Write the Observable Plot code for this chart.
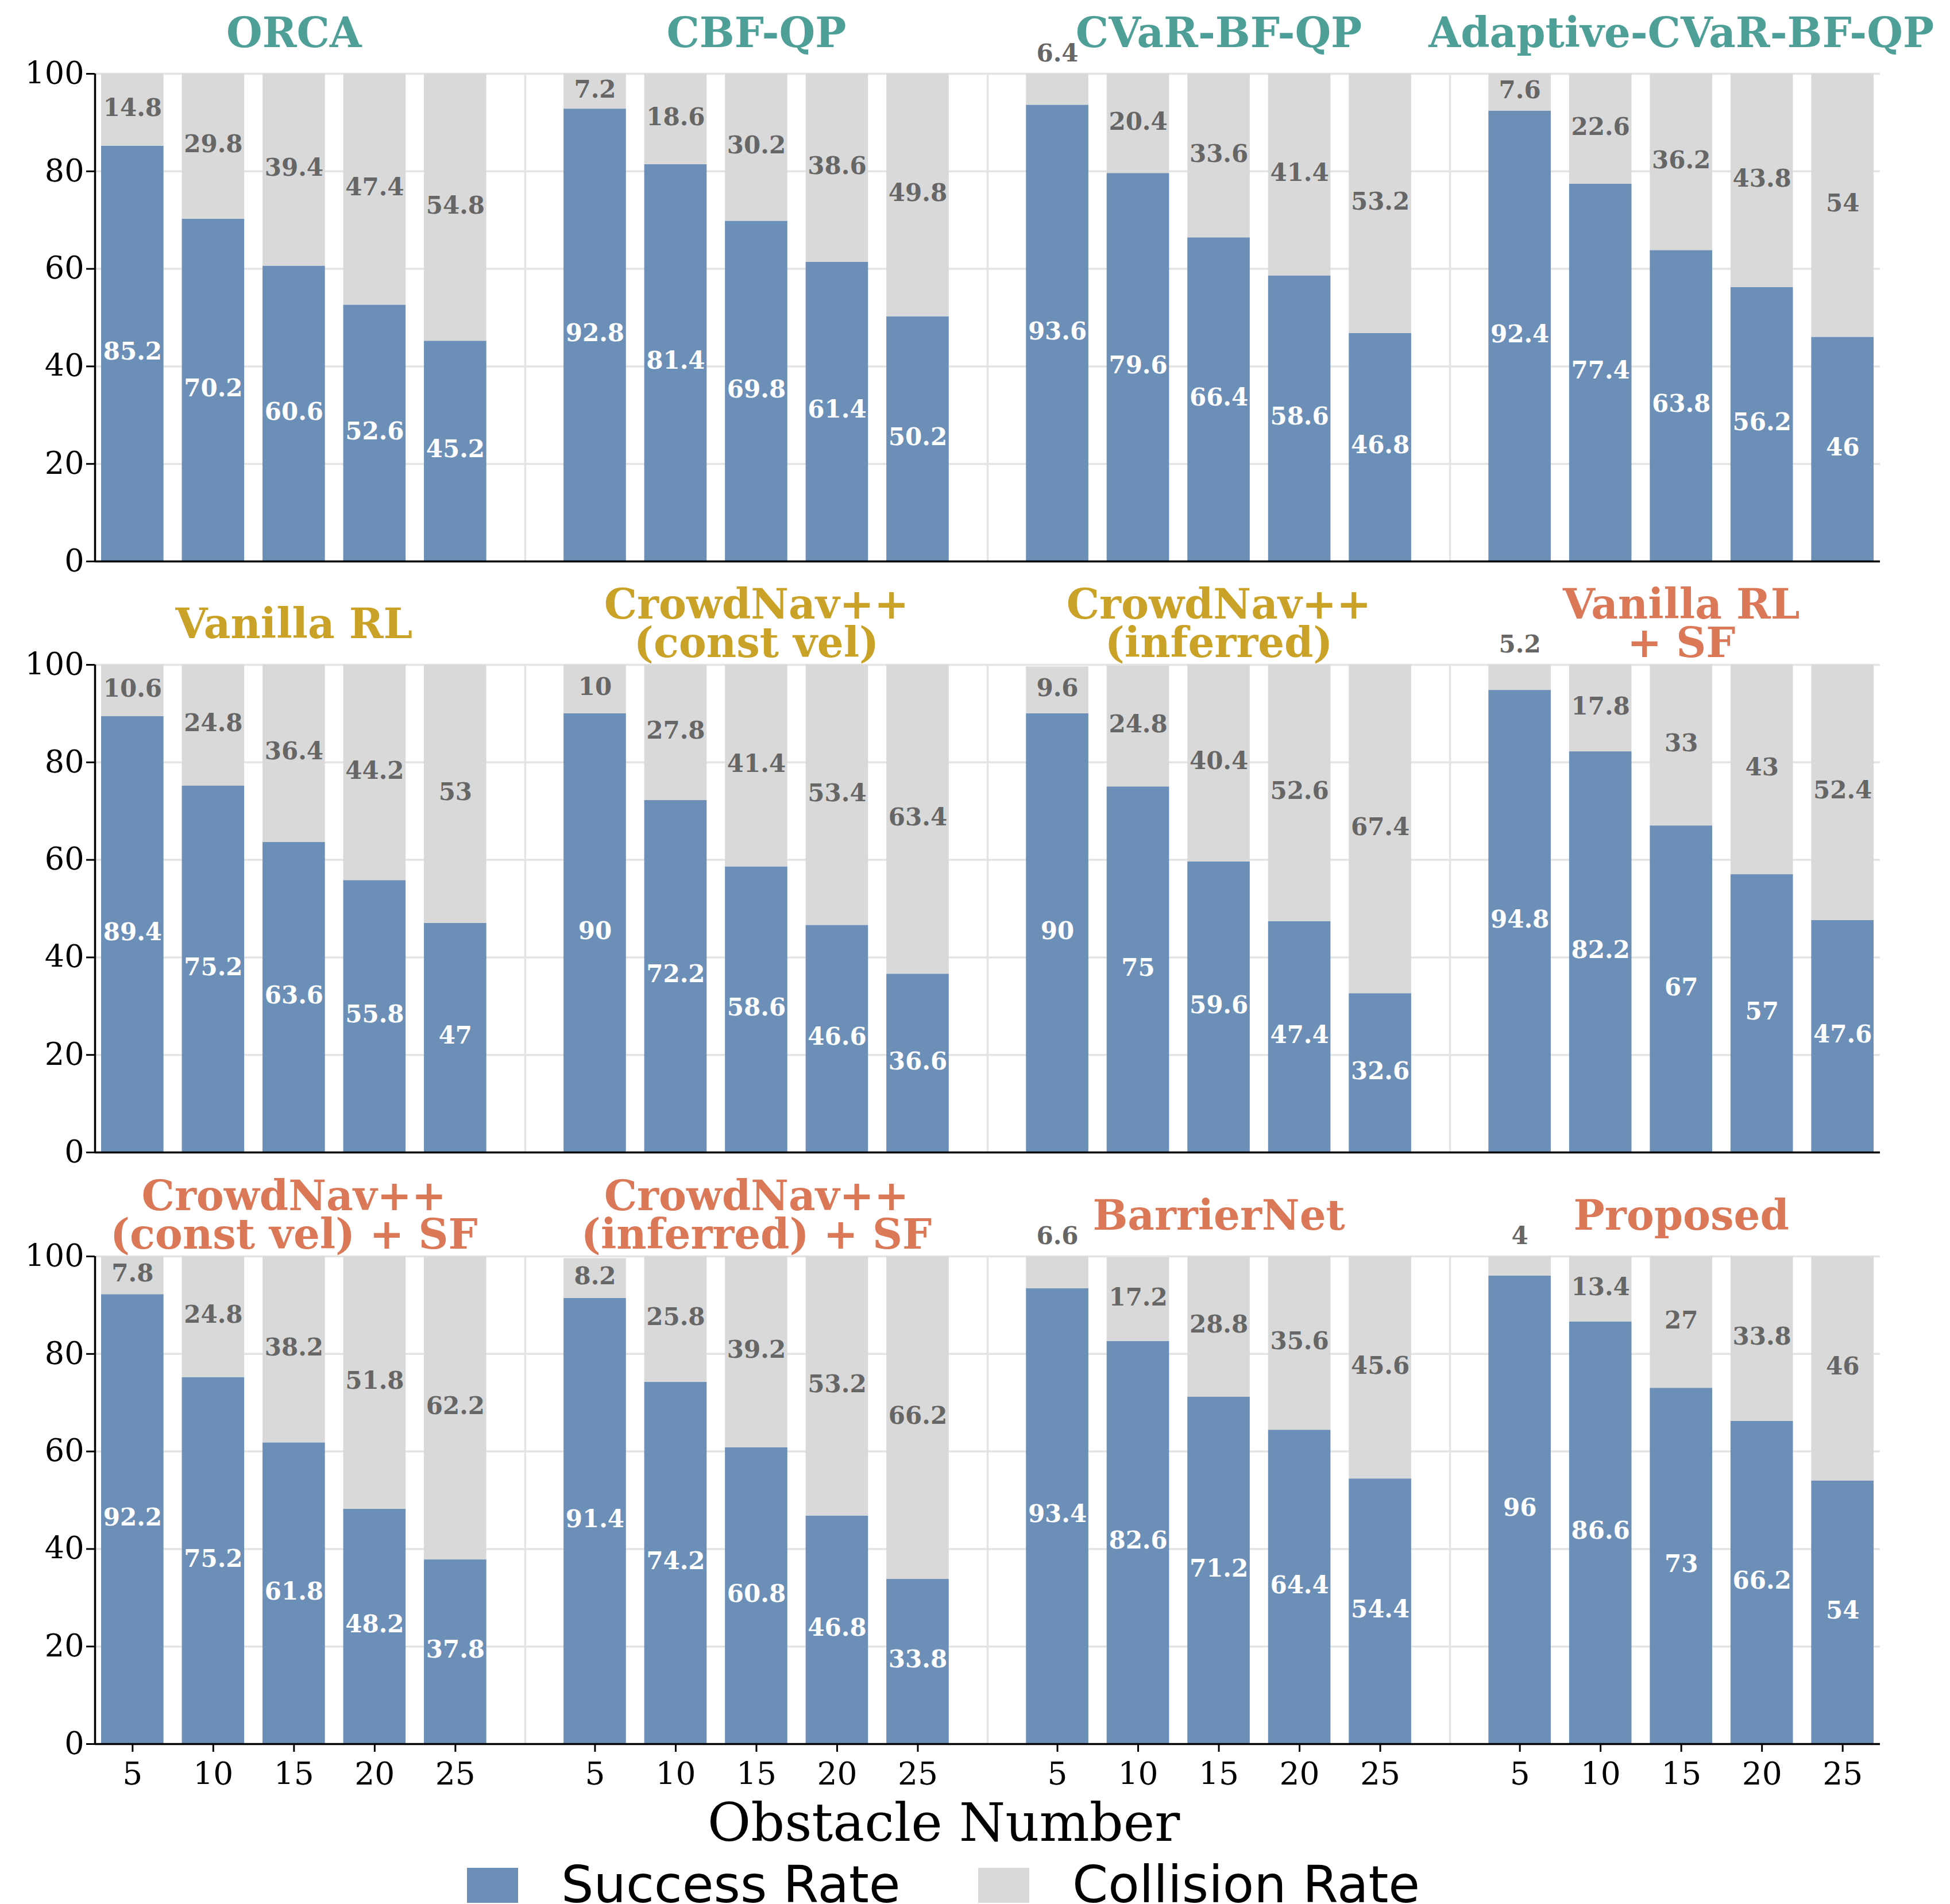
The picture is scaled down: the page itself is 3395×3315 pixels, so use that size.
<!DOCTYPE html>
<html>
<head>
<meta charset="utf-8">
<script src="https://cdn.jsdelivr.net/npm/d3@7"></script>
<script src="https://cdn.jsdelivr.net/npm/@observablehq/plot@0.6"></script>
<style>
  html, body { margin: 0; padding: 0; background: #fff; overflow: hidden; }
  #fig { position: relative; width: 3395px; height: 3315px; background: #fff; }
  #fig > svg { position: absolute; left: 0; max-width: none; }
</style>
</head>
<body>
<div id="fig"></div>
<script>
// Obstacle counts tested for every method
const obstacleCounts = [5, 10, 15, 20, 25];

// Methods, in panel order (four per row)
const methodNames = [
  "ORCA", "CBF-QP", "CVaR-BF-QP", "Adaptive-CVaR-BF-QP",
  "Vanilla RL", "CrowdNav++\n(const vel)", "CrowdNav++\n(inferred)", "Vanilla RL\n+ SF",
  "CrowdNav++\n(const vel) + SF", "CrowdNav++\n(inferred) + SF", "BarrierNet", "Proposed"
];
const methodFamily = [
  "optimization", "optimization", "optimization", "optimization",
  "learning", "learning", "learning", "safe-learning",
  "safe-learning", "safe-learning", "safe-learning", "safe-learning"
];

// Success rate (%) per method, by obstacle count
const successRate = [
  [85.2, 70.2, 60.6, 52.6, 45.2],
  [92.8, 81.4, 69.8, 61.4, 50.2],
  [93.6, 79.6, 66.4, 58.6, 46.8],
  [92.4, 77.4, 63.8, 56.2, 46],
  [89.4, 75.2, 63.6, 55.8, 47],
  [90, 72.2, 58.6, 46.6, 36.6],
  [90, 75, 59.6, 47.4, 32.6],
  [94.8, 82.2, 67, 57, 47.6],
  [92.2, 75.2, 61.8, 48.2, 37.8],
  [91.4, 74.2, 60.8, 46.8, 33.8],
  [93.4, 82.6, 71.2, 64.4, 54.4],
  [96, 86.6, 73, 66.2, 54]
];

// Collision rate (%) per method, by obstacle count
const collisionRate = [
  [14.8, 29.8, 39.4, 47.4, 54.8],
  [7.2, 18.6, 30.2, 38.6, 49.8],
  [6.4, 20.4, 33.6, 41.4, 53.2],
  [7.6, 22.6, 36.2, 43.8, 54],
  [10.6, 24.8, 36.4, 44.2, 53],
  [10, 27.8, 41.4, 53.4, 63.4],
  [9.6, 24.8, 40.4, 52.6, 67.4],
  [5.2, 17.8, 33, 43, 52.4],
  [7.8, 24.8, 38.2, 51.8, 62.2],
  [8.2, 25.8, 39.2, 53.2, 66.2],
  [6.6, 17.2, 28.8, 35.6, 45.6],
  [4, 13.4, 27, 33.8, 46]
];

const seriesNames = ["Success Rate", "Collision Rate"];
const yTicks = [0, 20, 40, 60, 80, 100];

// Styling
const seriesColor = ["#6c8fb8", "#d9d9d9"];
const familyColor = { "optimization": "#4e9f97", "learning": "#c9a227", "safe-learning": "#da7858" };
const serif = "DejaVu Serif";
const sans = "DejaVu Sans";

// Layout of one row: 4 groups of 5 bars along a linear x axis
const GROUP_STEP = 5.73;   // group pitch in bar units
const BAR_W = 0.773;       // bar width in bar units
const PAD = 0.465;
const xDomain = [-PAD, 3 * GROUP_STEP + 4 + PAD];
const WIDTH = 3395, ML = 165, MR = 122, MT = 128, PLOT_H = 849;
const rowTop = [0, 1029, 2059];

const bars = [];
methodNames.forEach((name, m) => {
  obstacleCounts.forEach((n, i) => {
    bars.push({
      m, row: Math.floor(m / 4), g: m % 4, i, n,
      success: successRate[m][i], collision: collisionRate[m][i]
    });
  });
});
const pos = d => d.g * GROUP_STEP + d.i;
const separators = [0, 1, 2].map(g => g * GROUP_STEP + 4 + (GROUP_STEP - 4) / 2);
const tickPositions = [];
for (let g = 0; g < 4; g++) obstacleCounts.forEach((n, i) => tickPositions.push(g * GROUP_STEP + i));
const tickLabel = v => {
  const g = Math.round((v - 2) / GROUP_STEP);
  return String(obstacleCounts[Math.round(v - g * GROUP_STEP)]);
};

const fig = document.getElementById("fig");

function drawRow(r) {
  const last = r === 2;
  const height = last ? 1100 : 1029;
  const rb = bars.filter(d => d.row === r);
  const titles = methodNames
    .map((name, m) => ({ name, m, g: m % 4, family: methodFamily[m] }))
    .filter(d => Math.floor(d.m / 4) === r);

  const marks = [
    Plot.gridY(yTicks.filter(t => t > 0), { stroke: "#e4e4e4", strokeOpacity: 1, strokeWidth: 3.5 }),
    Plot.ruleX(separators, { y1: 0, y2: 100, stroke: "#e4e4e4", strokeWidth: 3.5 }),
    // stacked bars: success at the bottom, collision on top
    Plot.rect(rb, {
      x1: d => pos(d) - BAR_W / 2, x2: d => pos(d) + BAR_W / 2,
      y1: 0, y2: "success", fill: seriesColor[0]
    }),
    Plot.rect(rb, {
      x1: d => pos(d) - BAR_W / 2, x2: d => pos(d) + BAR_W / 2,
      y1: "success", y2: d => d.success + d.collision, fill: seriesColor[1]
    }),
    // value labels
    Plot.text(rb, {
      x: pos, y: d => d.success / 2, dy: -3, text: d => String(d.success),
      fill: "white", fontWeight: "bold", fontSize: 42, fontFamily: serif
    }),
    Plot.text(rb.filter(d => d.collision >= 7), {
      x: pos, y: d => d.success + d.collision / 2, dy: -3, text: d => String(d.collision),
      fill: "#666666", fontWeight: "bold", fontSize: 42, fontFamily: serif
    }),
    Plot.text(rb.filter(d => d.collision < 7), {
      x: pos, y: d => d.success + d.collision, dy: -35, text: d => String(d.collision),
      fill: "#666666", fontWeight: "bold", fontSize: 42, fontFamily: serif
    }),
    // panel titles
    ...Object.keys(familyColor).map(f => Plot.text(titles.filter(d => d.family === f), {
      x: d => d.g * GROUP_STEP + 2, y: 100, dy: -68, text: "name",
      fill: familyColor[f], fontWeight: "bold", fontSize: 72, lineHeight: 0.93,
      fontFamily: serif
    })),
    // axes and spines
    Plot.axisY(yTicks, {
      tickSize: 15, tickPadding: 4, fontSize: 54, color: "black", strokeWidth: 3,
      label: null, fontFamily: serif
    }),
    Plot.ruleX([xDomain[0]], { y1: 0, y2: 100, stroke: "black", strokeWidth: 3.5 }),
    Plot.ruleY([0], { stroke: "black", strokeWidth: 3.5 })
  ];
  if (last) {
    marks.push(Plot.axisX(tickPositions, {
      tickFormat: tickLabel, tickSize: 14, tickPadding: 17, fontSize: 55,
      color: "black", strokeWidth: 3, label: null, fontFamily: serif
    }));
  }

  const svg = Plot.plot({
    width: WIDTH, height,
    marginLeft: ML, marginRight: MR, marginTop: MT, marginBottom: height - MT - PLOT_H,
    x: { domain: xDomain, axis: null },
    y: { domain: [0, 100], axis: null },
    style: { fontFamily: serif, background: "transparent", overflow: "visible" },
    marks
  });
  svg.style.top = rowTop[r] + "px";
  fig.appendChild(svg);
}

[0, 1, 2].forEach(drawRow);

// Shared x-axis label and legend below the panels
const bottom = d3.select(fig).append("svg")
  .attr("width", WIDTH).attr("height", 215)
  .style("top", "3100px").style("overflow", "visible");

bottom.append("text")
  .attr("x", 1643).attr("y", 105)
  .attr("text-anchor", "middle")
  .attr("font-family", serif).attr("font-size", 92)
  .text("Obstacle Number");

const legendX = [813, 1703];
seriesNames.forEach((name, k) => {
  const g = bottom.append("g").attr("transform", `translate(${legendX[k]},0)`);
  g.append("rect").attr("x", 0).attr("y", 152).attr("width", 89).attr("height", 61)
    .attr("fill", seriesColor[k]);
  g.append("text").attr("x", 164).attr("y", 212)
    .attr("font-family", sans).attr("font-size", 89)
    .text(name);
});
</script>
</body>
</html>
